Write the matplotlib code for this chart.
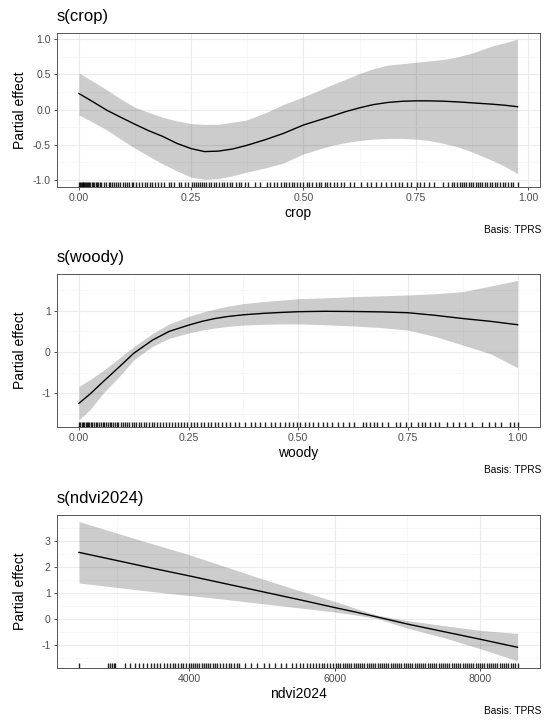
import matplotlib
matplotlib.use("Agg")
import matplotlib.pyplot as plt
from matplotlib.ticker import FixedLocator

plt.rcParams['font.family'] = ['Liberation Sans', 'DejaVu Sans']

# ---- s(crop) ----
crop_x = [0.000, 0.031, 0.062, 0.093, 0.125, 0.155, 0.186, 0.218, 0.250, 0.280,
          0.311, 0.342, 0.373, 0.414, 0.455, 0.500, 0.530, 0.563, 0.594, 0.625,
          0.656, 0.688, 0.720, 0.750, 0.780, 0.812, 0.845, 0.875, 0.920, 0.950, 0.977]
crop_fit = [0.227, 0.11, -0.01, -0.11, -0.21, -0.30, -0.38, -0.48, -0.555, -0.597,
            -0.59, -0.56, -0.51, -0.43, -0.34, -0.22, -0.16, -0.095, -0.03, 0.024,
            0.07, 0.10, 0.117, 0.123, 0.123, 0.118, 0.108, 0.095, 0.076, 0.06, 0.04]
crop_lo = [-0.08, -0.18, -0.29, -0.42, -0.55, -0.66, -0.77, -0.87, -0.96, -0.99,
           -0.98, -0.94, -0.89, -0.83, -0.76, -0.63, -0.57, -0.51, -0.47, -0.44,
           -0.42, -0.41, -0.41, -0.42, -0.44, -0.48, -0.53, -0.60, -0.72, -0.81, -0.91]
crop_hi = [0.52, 0.40, 0.28, 0.15, 0.03, -0.04, -0.11, -0.16, -0.20, -0.21,
           -0.21, -0.18, -0.15, -0.05, 0.07, 0.18, 0.26, 0.35, 0.43, 0.51,
           0.58, 0.63, 0.65, 0.67, 0.69, 0.71, 0.75, 0.80, 0.90, 0.95, 1.00]
crop_rug = [0.000, 0.002, 0.004, 0.006, 0.008, 0.010, 0.012, 0.014, 0.016, 0.018,
            0.020, 0.022, 0.025, 0.028, 0.031, 0.034, 0.037, 0.040, 0.043, 0.046,
            0.049, 0.055, 0.060, 0.066, 0.070, 0.074, 0.079, 0.083, 0.088, 0.092,
            0.098, 0.103, 0.108, 0.112, 0.118, 0.121, 0.126, 0.133, 0.140, 0.146,
            0.152, 0.158, 0.163, 0.170, 0.176, 0.183, 0.190, 0.200, 0.206, 0.212,
            0.222, 0.228, 0.236, 0.243, 0.252, 0.256, 0.260, 0.265, 0.270, 0.274,
            0.279, 0.284, 0.290, 0.295, 0.300, 0.306, 0.312, 0.318, 0.323, 0.330,
            0.336, 0.342, 0.350, 0.356, 0.362, 0.370, 0.377, 0.392, 0.403, 0.418,
            0.426, 0.434, 0.442, 0.450, 0.456, 0.462, 0.468, 0.474, 0.480, 0.486,
            0.493, 0.500, 0.507, 0.513, 0.520, 0.527, 0.534, 0.540, 0.547, 0.553,
            0.560, 0.568, 0.575, 0.583, 0.590, 0.603, 0.612, 0.628, 0.641, 0.650,
            0.662, 0.672, 0.685, 0.695, 0.705, 0.712, 0.720, 0.730, 0.740, 0.752,
            0.760, 0.768, 0.780, 0.792, 0.812, 0.822, 0.830, 0.836, 0.842, 0.848,
            0.853, 0.858, 0.863, 0.868, 0.873, 0.878, 0.884, 0.889, 0.894, 0.899,
            0.905, 0.910, 0.915, 0.920, 0.926, 0.932, 0.938, 0.944, 0.950, 0.956,
            0.962, 0.968, 0.977]

# ---- s(woody) ----
woody_x = [0.000, 0.025, 0.055, 0.093, 0.125, 0.168, 0.206, 0.250, 0.280, 0.310,
           0.340, 0.375, 0.420, 0.467, 0.500, 0.560, 0.625, 0.690, 0.750, 0.810,
           0.875, 0.940, 1.000]
woody_fit = [-1.24, -1.02, -0.72, -0.35, -0.03, 0.29, 0.50, 0.65, 0.74, 0.81,
             0.86, 0.90, 0.935, 0.96, 0.975, 0.985, 0.98, 0.97, 0.95, 0.89,
             0.81, 0.74, 0.66]
woody_lo = [-1.64, -1.40, -1.00, -0.58, -0.19, 0.14, 0.33, 0.46, 0.53, 0.58,
            0.62, 0.65, 0.67, 0.68, 0.68, 0.66, 0.63, 0.59, 0.53, 0.38,
            0.17, -0.05, -0.38]
woody_hi = [-0.83, -0.67, -0.45, -0.14, 0.13, 0.45, 0.68, 0.86, 0.96, 1.04,
            1.11, 1.17, 1.22, 1.26, 1.29, 1.31, 1.34, 1.36, 1.38, 1.41,
            1.46, 1.60, 1.73]
woody_rug = [0.000, 0.003, 0.006, 0.009, 0.012, 0.015, 0.018, 0.021, 0.024, 0.027,
             0.030, 0.034, 0.038, 0.042, 0.046, 0.050, 0.054, 0.058, 0.062, 0.066,
             0.070, 0.074, 0.078, 0.082, 0.086, 0.090, 0.095, 0.100, 0.105, 0.110,
             0.115, 0.120, 0.125, 0.130, 0.136, 0.142, 0.148, 0.154, 0.160, 0.166,
             0.172, 0.178, 0.185, 0.192, 0.198, 0.205, 0.212, 0.219, 0.226, 0.233,
             0.240, 0.247, 0.255, 0.262, 0.270, 0.278, 0.286, 0.294, 0.302, 0.310,
             0.318, 0.327, 0.336, 0.345, 0.355, 0.364, 0.378, 0.392, 0.401, 0.412,
             0.425, 0.437, 0.446, 0.458, 0.470, 0.480, 0.488, 0.497, 0.505, 0.515,
             0.524, 0.533, 0.545, 0.556, 0.566, 0.578, 0.590, 0.602, 0.615, 0.626,
             0.648, 0.655, 0.664, 0.672, 0.680, 0.692, 0.705, 0.722, 0.733, 0.745,
             0.758, 0.772, 0.781, 0.790, 0.800, 0.812, 0.820, 0.838, 0.852, 0.866,
             0.880, 0.895, 0.920, 0.935, 0.948, 0.962, 0.982, 0.993, 1.000]

# ---- s(ndvi2024) ----
ndvi_x = [2482, 3000, 3500, 4000, 4500, 5000, 5500, 6000, 6300, 6600,
          7000, 7500, 8000, 8517]
ndvi_fit = [2.55, 2.24, 1.94, 1.65, 1.35, 1.05, 0.75, 0.44, 0.26, 0.07,
            -0.19, -0.48, -0.77, -1.08]
ndvi_lo = [1.38, 1.21, 1.05, 0.90, 0.75, 0.59, 0.43, 0.27, 0.15, 0.01,
           -0.35, -0.71, -1.13, -1.60]
ndvi_hi = [3.73, 3.29, 2.87, 2.46, 2.00, 1.54, 1.10, 0.675, 0.40, 0.14,
           -0.06, -0.25, -0.43, -0.55]
ndvi_rug = [2482, 2880, 2905, 2930, 2960, 2980,
            3120, 3180, 3260, 3310, 3360, 3420, 3470, 3520, 3560, 3600, 3650, 3690,
            3730, 3770, 3810, 3850, 3880, 3920, 3960, 3990,
            4020, 4050, 4080, 4110, 4140, 4170, 4200, 4230, 4260, 4290, 4320, 4350,
            4380, 4420, 4460, 4500, 4540, 4580, 4620, 4660, 4690,
            4760, 4850, 4930, 5030, 5100, 5180, 5260, 5330,
            5420, 5470, 5520, 5570, 5620, 5660, 5700, 5740, 5780, 5820, 5860, 5900,
            5940, 5980,
            6020, 6050, 6080, 6110, 6140, 6170, 6200, 6230, 6260, 6290, 6320, 6350,
            6380, 6410, 6440, 6470, 6500, 6530, 6560, 6590, 6620, 6650, 6680, 6710,
            6740, 6770, 6800, 6830, 6860, 6890, 6920, 6950, 6980, 7010, 7040, 7070,
            7100, 7130, 7160, 7190, 7220, 7250, 7280, 7310, 7340, 7370, 7400, 7430,
            7460, 7490, 7520, 7550, 7580, 7610, 7640, 7670, 7700, 7730, 7760, 7790,
            7820, 7850, 7880, 7910, 7940, 7970, 8000, 8030, 8060, 8090, 8120, 8150,
            8180, 8210, 8240, 8270, 8300, 8330, 8360, 8390, 8420, 8450, 8480, 8517]

# ticks
unit_ticks = [0.0, 0.25, 0.5, 0.75, 1.0]
unit_labels = ['0.00', '0.25', '0.50', '0.75', '1.00']
unit_minor = [0.125, 0.375, 0.625, 0.875]

W, H = 546, 722
fig = plt.figure(figsize=(W / 100, H / 100), dpi=100)


def fx(px):
    return px / W


def fy(py):
    return 1 - py / H


panels = [
    dict(title='s(crop)', xlab='crop', x=crop_x, fit=crop_fit, lo=crop_lo, hi=crop_hi,
         rug=crop_rug, top=32.7, bottom=186.7, xlim=(-0.049, 1.026), ylim=(-1.095, 1.09),
         xt=unit_ticks, xtl=unit_labels, xm=unit_minor,
         yt=[-1.0, -0.5, 0.0, 0.5, 1.0], ytl=['-1.0', '-0.5', '0.0', '0.5', '1.0'],
         ym=[-0.75, -0.25, 0.25, 0.75]),
    dict(title='s(woody)', xlab='woody', x=woody_x, fit=woody_fit, lo=woody_lo, hi=woody_hi,
         rug=woody_rug, top=274, bottom=426.7, xlim=(-0.05, 1.05), ylim=(-1.807, 1.887),
         xt=unit_ticks, xtl=unit_labels, xm=unit_minor,
         yt=[-1, 0, 1], ytl=['-1', '0', '1'], ym=[-1.5, -0.5, 0.5, 1.5]),
    dict(title='s(ndvi2024)', xlab='ndvi2024', x=ndvi_x, fit=ndvi_fit, lo=ndvi_lo, hi=ndvi_hi,
         rug=ndvi_rug, top=514.7, bottom=667.7, xlim=(2180, 8819), ylim=(-1.86, 3.99),
         xt=[4000, 6000, 8000], xtl=['4000', '6000', '8000'], xm=[3000, 5000, 7000],
         yt=[-1, 0, 1, 2, 3], ytl=['-1', '0', '1', '2', '3'],
         ym=[-1.5, -0.5, 0.5, 1.5, 2.5, 3.5]),
]

ax_left, ax_right = 57, 539.5

for p in panels:
    ax = fig.add_axes((fx(ax_left), fy(p['bottom']), fx(ax_right - ax_left),
                       (p['bottom'] - p['top']) / H))
    ax.fill_between(p['x'], p['lo'], p['hi'], color='black', alpha=0.2, lw=0, zorder=2)
    ax.plot(p['x'], p['fit'], color='black', lw=1.0, zorder=3)
    ax.vlines(p['rug'], 0, 0.032, transform=ax.get_xaxis_transform(),
              color='black', alpha=0.85, lw=1.0, zorder=3)
    ax.set_xlim(p['xlim'])
    ax.set_ylim(p['ylim'])

    ax.xaxis.set_major_locator(FixedLocator(p['xt']))
    ax.set_xticklabels(p['xtl'])
    ax.xaxis.set_minor_locator(FixedLocator(p['xm']))
    ax.yaxis.set_major_locator(FixedLocator(p['yt']))
    ax.set_yticklabels(p['ytl'])
    ax.yaxis.set_minor_locator(FixedLocator(p['ym']))

    ax.grid(which='major', color='#EBEBEB', lw=0.8, zorder=0)
    ax.grid(which='minor', color='#F3F3F3', lw=0.45, zorder=0)
    ax.set_axisbelow(True)
    ax.tick_params(which='major', length=2.5, width=0.6, color='#333333',
                   labelsize=7.6, labelcolor='#4D4D4D', pad=2)
    ax.tick_params(which='minor', length=0)
    for s in ax.spines.values():
        s.set_color('#555555')
        s.set_linewidth(0.7)

    # title, axis labels and caption
    fig.text(fx(ax_left), fy(p['top'] - 16.5), p['title'], fontsize=12,
             ha='left', va='center')
    fig.text(fx((ax_left + ax_right) / 2), fy(p['bottom'] + 26.5), p['xlab'],
             fontsize=10, ha='center', va='center')
    fig.text(fx(20), fy((p['top'] + p['bottom']) / 2), 'Partial effect',
             fontsize=10, rotation=90, ha='center', va='center')
    fig.text(fx(541), fy(p['bottom'] + 43.5), 'Basis: TPRS', fontsize=7.3,
             ha='right', va='center')

fig.savefig('out.png', dpi=100)
